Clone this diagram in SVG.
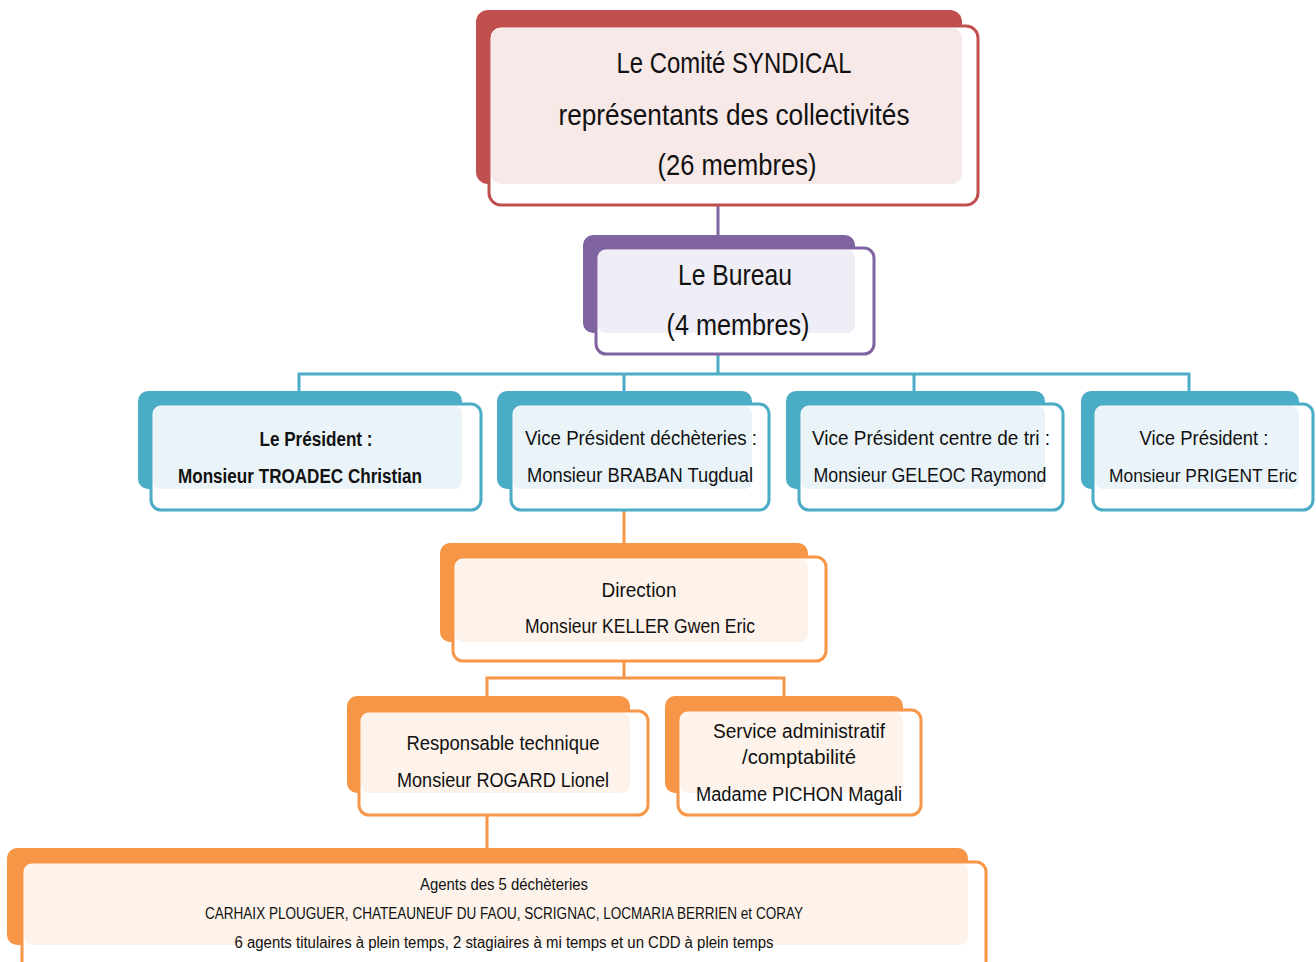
<svg xmlns="http://www.w3.org/2000/svg" width="1316" height="962" viewBox="0 0 1316 962">
<style>
text{font-family:"Liberation Sans",Arial,sans-serif;fill:#111;text-anchor:middle}
.t1{font-size:29px}
.t2{font-size:20px}
.t3{font-size:16px}
.b{font-weight:bold}
.front{fill:#fff;stroke-width:3}
.red .back{fill:#c0504d}.red .front{stroke:#c0504d}.red .tint{fill:#f8e9e9}
.pur .back{fill:#8064a2}.pur .front{stroke:#8064a2}.pur .tint{fill:#efedf5}
.teal .back{fill:#4bacc6}.teal .front{stroke:#4bacc6}.teal .tint{fill:#eaf4f8}
.or .back{fill:#f79646}.or .front{stroke:#f79646}.or .tint{fill:#fdf3ea}
.cn{fill:none;stroke-width:3}
</style>
<g id="connectors">
<path class="cn" stroke="#8064a2" d="M718 205V236"/>
<path class="cn" stroke="#4bacc6" d="M718 355V374M299 374H1189M299 372.5V392M624 372.5V392M914 372.5V392M1189 372.5V392"/>
<path class="cn" stroke="#f79646" d="M624 510V544M624 662V678M487 678H784M487 676.5V697M784 676.5V697M487 816V849"/>
</g>
<g id="comite" class="red">
<rect class="back" x="476" y="10" width="486" height="174" rx="12"/>
<rect class="front" x="489" y="26" width="489" height="179" rx="12"/>
<rect class="tint" x="491" y="28" width="471" height="156" rx="10"/>
<text class="t1" x="734" y="73" textLength="235" lengthAdjust="spacingAndGlyphs">Le Comité SYNDICAL</text>
<text class="t1" x="734" y="125" textLength="351" lengthAdjust="spacingAndGlyphs">représentants des collectivités</text>
<text class="t1" x="737" y="175" textLength="159" lengthAdjust="spacingAndGlyphs">(26 membres)</text>
</g>
<g id="bureau" class="pur">
<rect class="back" x="583" y="235" width="272" height="98" rx="10"/>
<rect class="front" x="596" y="248" width="278" height="106" rx="10"/>
<rect class="tint" x="598" y="250" width="257" height="83" rx="8"/>
<text class="t1" x="735" y="285" textLength="114" lengthAdjust="spacingAndGlyphs">Le Bureau</text>
<text class="t1" x="738" y="335" textLength="143" lengthAdjust="spacingAndGlyphs">(4 membres)</text>
</g>
<g id="president" class="teal">
<rect class="back" x="138" y="391" width="324" height="98" rx="10"/>
<rect class="front" x="151" y="404" width="330" height="106" rx="10"/>
<rect class="tint" x="153" y="406" width="309" height="83" rx="8"/>
<text class="t2 b" x="316" y="446" textLength="113" lengthAdjust="spacingAndGlyphs">Le Président :</text>
<text class="t2 b" x="300" y="483" textLength="244" lengthAdjust="spacingAndGlyphs">Monsieur TROADEC Christian</text>
</g>
<g id="vp-decheteries" class="teal">
<rect class="back" x="497" y="391" width="255" height="98" rx="10"/>
<rect class="front" x="511" y="404" width="258" height="106" rx="10"/>
<rect class="tint" x="513" y="406" width="239" height="83" rx="8"/>
<text class="t2" x="641" y="445" textLength="232" lengthAdjust="spacingAndGlyphs">Vice Président déchèteries :</text>
<text class="t2" x="640" y="482" textLength="226" lengthAdjust="spacingAndGlyphs">Monsieur BRABAN Tugdual</text>
</g>
<g id="vp-tri" class="teal">
<rect class="back" x="786" y="391" width="259" height="98" rx="10"/>
<rect class="front" x="799" y="404" width="264" height="106" rx="10"/>
<rect class="tint" x="801" y="406" width="244" height="83" rx="8"/>
<text class="t2" x="931" y="445" textLength="238" lengthAdjust="spacingAndGlyphs">Vice Président centre de tri :</text>
<text class="t2" x="930" y="482" textLength="233" lengthAdjust="spacingAndGlyphs">Monsieur GELEOC Raymond</text>
</g>
<g id="vp" class="teal">
<rect class="back" x="1081" y="391" width="218" height="98" rx="10"/>
<rect class="front" x="1093" y="404" width="220" height="106" rx="10"/>
<rect class="tint" x="1095" y="406" width="204" height="83" rx="8"/>
<text class="t2" x="1204" y="445" textLength="129" lengthAdjust="spacingAndGlyphs">Vice Président :</text>
<text x="1203" y="482" style="font-size:18.5px" textLength="188" lengthAdjust="spacingAndGlyphs">Monsieur PRIGENT Eric</text>
</g>
<g id="direction" class="or">
<rect class="back" x="440" y="543" width="368" height="99" rx="10"/>
<rect class="front" x="453" y="557" width="373" height="104" rx="10"/>
<rect class="tint" x="455" y="559" width="353" height="83" rx="8"/>
<text class="t2" x="639" y="597" textLength="75" lengthAdjust="spacingAndGlyphs">Direction</text>
<text class="t2" x="640" y="633" textLength="230" lengthAdjust="spacingAndGlyphs">Monsieur KELLER Gwen Eric</text>
</g>
<g id="technique" class="or">
<rect class="back" x="347" y="696" width="283" height="97" rx="10"/>
<rect class="front" x="359" y="711" width="289" height="104" rx="10"/>
<rect class="tint" x="361" y="713" width="269" height="80" rx="8"/>
<text class="t2" x="503" y="750" textLength="193" lengthAdjust="spacingAndGlyphs">Responsable technique</text>
<text class="t2" x="503" y="787" textLength="212" lengthAdjust="spacingAndGlyphs">Monsieur ROGARD Lionel</text>
</g>
<g id="administratif" class="or">
<rect class="back" x="665" y="696" width="238" height="97" rx="10"/>
<rect class="front" x="678" y="710" width="243" height="105" rx="10"/>
<rect class="tint" x="680" y="712" width="223" height="81" rx="8"/>
<text class="t2" x="799" y="738" textLength="172" lengthAdjust="spacingAndGlyphs">Service administratif</text>
<text class="t2" x="799" y="764" textLength="114" lengthAdjust="spacingAndGlyphs">/comptabilité</text>
<text class="t2" x="799" y="801" textLength="206" lengthAdjust="spacingAndGlyphs">Madame PICHON Magali</text>
</g>
<g id="agents" class="or">
<rect class="back" x="7" y="848" width="961" height="97" rx="10"/>
<rect class="front" x="22" y="862" width="964" height="112" rx="10"/>
<rect class="tint" x="24" y="864" width="944" height="81" rx="8"/>
<text class="t3" x="504" y="890" textLength="168" lengthAdjust="spacingAndGlyphs">Agents des 5 déchèteries</text>
<text class="t3" x="504" y="919" textLength="598" lengthAdjust="spacingAndGlyphs">CARHAIX PLOUGUER, CHATEAUNEUF DU FAOU, SCRIGNAC, LOCMARIA BERRIEN et CORAY</text>
<text class="t3" x="504" y="948" textLength="539" lengthAdjust="spacingAndGlyphs">6 agents titulaires à plein temps, 2 stagiaires à mi temps et un CDD à plein temps</text>
</g>
</svg>
